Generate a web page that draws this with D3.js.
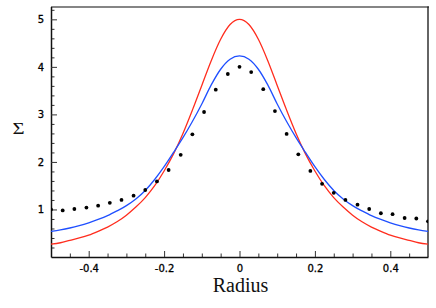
<!DOCTYPE html>
<html>
<head>
<meta charset="utf-8">
<script src="https://cdn.jsdelivr.net/npm/d3@7"></script>
<style>
    body { margin: 0; background: #fff; }
    svg { display: block; }
</style>
</head>
<body>
<svg></svg>
<script>
const width = 436;
const height = 308;
const margin = { top: 6.5, right: 8, bottom: 51, left: 51 };

// model curves at steps of 0.025
const radiusGrid = [
    -0.5, -0.475, -0.45, -0.425, -0.4, -0.375, -0.35, -0.325, -0.3, -0.275, -0.25,
    -0.225, -0.2, -0.175, -0.15, -0.125, -0.1, -0.075, -0.05, -0.025, 0,
    0.025, 0.05, 0.075, 0.1, 0.125, 0.15, 0.175, 0.2, 0.225, 0.25,
    0.275, 0.3, 0.325, 0.35, 0.375, 0.4, 0.425, 0.45, 0.475, 0.5
];
const redSigma = [
    0.27, 0.30, 0.35, 0.40, 0.46, 0.54, 0.63, 0.74, 0.88, 1.05, 1.25,
    1.50, 1.81, 2.17, 2.60, 3.09, 3.61, 4.13, 4.58, 4.89, 5.00,
    4.89, 4.58, 4.13, 3.61, 3.09, 2.60, 2.17, 1.81, 1.50, 1.25,
    1.05, 0.88, 0.74, 0.63, 0.54, 0.46, 0.40, 0.35, 0.30, 0.27
];
const blueSigma = [
    0.54, 0.57, 0.61, 0.66, 0.72, 0.79, 0.87, 0.97, 1.08, 1.22, 1.40,
    1.63, 1.90, 2.20, 2.51, 2.85, 3.22, 3.62, 3.95, 4.16, 4.23,
    4.16, 3.95, 3.62, 3.22, 2.85, 2.51, 2.20, 1.90, 1.63, 1.40,
    1.22, 1.08, 0.97, 0.87, 0.79, 0.72, 0.66, 0.61, 0.57, 0.54
];

// measured points
const dotRadius = [
    -0.5, -0.469, -0.438, -0.406, -0.375, -0.344, -0.313, -0.281, -0.25,
    -0.219, -0.188, -0.156, -0.125, -0.094, -0.063, -0.031, 0,
    0.031, 0.063, 0.094, 0.125, 0.156, 0.188, 0.219, 0.25,
    0.281, 0.313, 0.344, 0.375, 0.406, 0.438, 0.469, 0.5
];
const dotSigma = [
    1.00, 0.98, 1.01, 1.04, 1.08, 1.14, 1.20, 1.29, 1.41,
    1.59, 1.83, 2.15, 2.58, 3.05, 3.52, 3.85, 4.00,
    3.89, 3.53, 3.07, 2.59, 2.16, 1.81, 1.54, 1.35,
    1.20, 1.10, 1.01, 0.92, 0.90, 0.82, 0.81, 0.75
];

const xMajor = [-0.4, -0.2, 0, 0.2, 0.4];
const xMinor = [-0.45, -0.35, -0.3, -0.25, -0.15, -0.1, -0.05, 0.05, 0.1, 0.15, 0.25, 0.3, 0.35, 0.45];
const yMajor = [1, 2, 3, 4, 5];
const yMinor = [0.2, 0.4, 0.6, 0.8, 1.2, 1.4, 1.6, 1.8, 2.2, 2.4, 2.6, 2.8,
    3.2, 3.4, 3.6, 3.8, 4.2, 4.4, 4.6, 4.8, 5.2];

const x = d3.scaleLinear()
    .domain([-0.5, 0.5])
    .range([margin.left, width - margin.right]);

const y = d3.scaleLinear()
    .domain([0, 5.27])
    .range([height - margin.bottom, margin.top]);

const svg = d3.select("svg")
    .attr("width", width)
    .attr("height", height)
    .attr("viewBox", [0, 0, width, height]);

svg.append("defs").append("clipPath")
    .attr("id", "plot")
    .append("rect")
    .attr("x", x(-0.5))
    .attr("y", y(5.27))
    .attr("width", x(0.5) - x(-0.5))
    .attr("height", y(0) - y(5.27));

// frame: grey top edge, thin black right edge
svg.append("line")
    .attr("x1", x(-0.5)).attr("x2", x(0.5) + 1)
    .attr("y1", y(5.27) + 0.5).attr("y2", y(5.27) + 0.5)
    .attr("stroke", "#858585")
    .attr("stroke-width", 2);

svg.append("line")
    .attr("x1", x(0.5)).attr("x2", x(0.5))
    .attr("y1", y(5.27)).attr("y2", y(0))
    .attr("stroke", "#111")
    .attr("stroke-width", 1.3);

// minor ticks
svg.append("g")
    .attr("transform", `translate(0,${y(0)})`)
    .call(d3.axisBottom(x).tickValues(xMinor).tickSize(-3.5).tickFormat(""))
    .call(g => g.select(".domain").remove());

svg.append("g")
    .attr("transform", `translate(${x(-0.5)},0)`)
    .call(d3.axisLeft(y).tickValues(yMinor).tickSize(-3.5).tickFormat(""))
    .call(g => g.select(".domain").remove());

// major ticks and labels
const xAxis = svg.append("g")
    .attr("transform", `translate(0,${y(0)})`)
    .call(d3.axisBottom(x).tickValues(xMajor).tickSize(-6).tickSizeOuter(0)
        .tickPadding(8).tickFormat(d => String(d)));

const yAxis = svg.append("g")
    .attr("transform", `translate(${x(-0.5)},0)`)
    .call(d3.axisLeft(y).tickValues(yMajor).tickSize(-6).tickSizeOuter(0)
        .tickPadding(7).tickFormat(d => String(d)));

for (const g of [xAxis, yAxis]) {
    g.select(".domain").attr("stroke", "#111").attr("stroke-width", 1.5);
    g.selectAll("text")
        .attr("font-family", "'DejaVu Sans', sans-serif")
        .attr("font-size", 10)
        .attr("fill", "#000")
        .attr("stroke", "#000")
        .attr("stroke-width", 0.3);
}

svg.selectAll(".tick line").attr("stroke", "#333");

// curves
const plot = svg.append("g").attr("clip-path", "url(#plot)");

const line = d3.line()
    .x(d => x(d[0]))
    .y(d => y(d[1]))
    .curve(d3.curveMonotoneX);

plot.append("path")
    .datum(d3.zip(radiusGrid, redSigma))
    .attr("fill", "none")
    .attr("stroke", "#ff2d1e")
    .attr("stroke-width", 1.3)
    .attr("d", line);

plot.append("path")
    .datum(d3.zip(radiusGrid, blueSigma))
    .attr("fill", "none")
    .attr("stroke", "#1f4fff")
    .attr("stroke-width", 1.3)
    .attr("d", line);

plot.append("g")
    .selectAll("circle")
    .data(d3.zip(dotRadius, dotSigma))
    .join("circle")
    .attr("cx", d => x(d[0]))
    .attr("cy", d => y(d[1]))
    .attr("r", 1.9)
    .attr("fill", "#000");

// axis titles
svg.append("text")
    .attr("x", (x(-0.5) + x(0.5)) / 2 + 1)
    .attr("y", 292)
    .attr("text-anchor", "middle")
    .attr("font-family", "'Liberation Serif', serif")
    .attr("font-size", 20)
    .attr("fill", "#111")
    .text("Radius");

svg.append("text")
    .attr("transform", "translate(18.5,133.5) scale(1.3,1)")
    .attr("text-anchor", "middle")
    .attr("font-family", "'Liberation Serif', serif")
    .attr("font-size", 16)
    .attr("fill", "#111")
    .text("Σ");
</script>
</body>
</html>
